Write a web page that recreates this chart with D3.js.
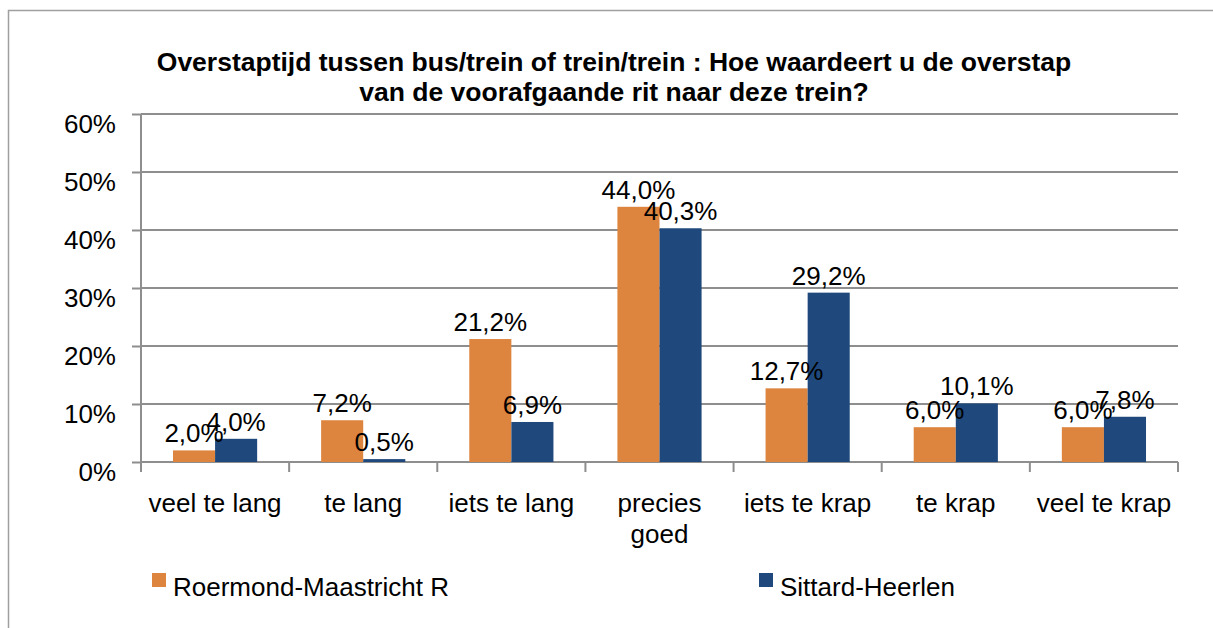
<!DOCTYPE html>
<html>
<head>
<meta charset="utf-8">
<script src="https://cdn.jsdelivr.net/npm/d3@7"></script>
<style>
  html, body { margin: 0; padding: 0; background: #fff; }
  svg { display: block; }
  text { font-family: "Liberation Sans", Arial, sans-serif; fill: #000; }
</style>
</head>
<body>
<svg id="chart" width="1213" height="628"></svg>
<script>
const categories = ["veel te lang", "te lang", "iets te lang", "precies goed", "iets te krap", "te krap", "veel te krap"];
const categoryLines = [["veel te lang"], ["te lang"], ["iets te lang"], ["precies", "goed"], ["iets te krap"], ["te krap"], ["veel te krap"]];
const seriesNames = ["Roermond-Maastricht R", "Sittard-Heerlen"];
const roermondValues = [0.020, 0.072, 0.212, 0.440, 0.127, 0.060, 0.060];
const sittardValues = [0.040, 0.005, 0.069, 0.403, 0.292, 0.101, 0.078];
const yTicks = [0, 0.1, 0.2, 0.3, 0.4, 0.5, 0.6];
const titleLines = ["Overstaptijd tussen bus/trein of trein/trein : Hoe waardeert u de overstap", "van de voorafgaande rit naar deze trein?"];
const colors = ["#dd853f", "#1f497d"];

const seriesValues = [roermondValues, sittardValues];
const svg = d3.select("#chart");
const gridColor = "#8e8e8e";

// outer frame (clipped at right and bottom like the reference)
svg.append("rect").attr("x", 8.5).attr("y", 10.5).attr("width", 1260).attr("height", 700)
  .attr("fill", "none").attr("stroke", "#a0a0a0").attr("stroke-width", 1.5);

const plotLeft = 141, plotRight = 1178, plotTop = 114, plotBottom = 462;

const x = d3.scaleBand().domain(categories).range([plotLeft, plotRight]).paddingInner(0).paddingOuter(0);
const x1 = d3.scaleBand().domain(seriesNames).range([0, x.bandwidth()]).paddingInner(0).paddingOuter(0.76);
const y = d3.scaleLinear().domain([0, 0.6]).range([plotBottom, plotTop]);

// title
const title = svg.append("text").attr("text-anchor", "middle").style("font-weight", "bold").style("font-size", "26.5px");
titleLines.forEach((t, i) => {
  title.append("tspan").attr("x", 614).attr("y", 71 + i * 30).text(t);
});

// gridlines
svg.append("g").selectAll("line").data(yTicks.slice(1)).join("line")
  .attr("x1", plotLeft).attr("x2", plotRight)
  .attr("y1", d => y(d)).attr("y2", d => y(d))
  .attr("stroke", gridColor).attr("stroke-width", 2);

// y axis
const yAxis = d3.axisLeft(y).tickValues(yTicks).tickSize(9).tickPadding(0)
  .tickFormat(d => Math.round(d * 100) + "%");
const gy = svg.append("g").attr("transform", `translate(${plotLeft},0)`).call(yAxis);
gy.select(".domain").attr("stroke", gridColor).attr("stroke-width", 2).attr("d", `M0,${plotBottom}V${plotTop}`);
gy.selectAll(".tick line").attr("stroke", gridColor).attr("stroke-width", 2);
gy.selectAll(".tick text")
  .attr("x", -25).attr("dy", null).attr("y", 18)
  .style("font-size", "26px").style("font-family", "'Liberation Sans', Arial, sans-serif").attr("fill", "#000");

// x axis
const boundaries = categories.map(c => x(c)).concat([plotRight]);
const gx = svg.append("g");
gx.append("line").attr("x1", plotLeft).attr("x2", plotRight).attr("y1", plotBottom).attr("y2", plotBottom)
  .attr("stroke", gridColor).attr("stroke-width", 2);
gx.selectAll("line.tk").data(boundaries).join("line").attr("class", "tk")
  .attr("x1", d => d).attr("x2", d => d).attr("y1", plotBottom).attr("y2", plotBottom + 10)
  .attr("stroke", gridColor).attr("stroke-width", 2);
gx.selectAll("text.cat").data(categories).join("text").attr("class", "cat")
  .attr("text-anchor", "middle").style("font-size", "26px")
  .each(function(c, i) {
    const t = d3.select(this);
    categoryLines[i].forEach((ln, j) => {
      t.append("tspan").attr("x", x(c) + x.bandwidth() / 2).attr("y", 512 + j * 31).text(ln);
    });
  });

// bars
const fmt = v => (v * 100).toFixed(1).replace(".", ",") + "%";
seriesNames.forEach((s, si) => {
  const g = svg.append("g");
  g.selectAll("rect").data(seriesValues[si]).join("rect")
    .attr("x", (d, i) => x(categories[i]) + x1(s))
    .attr("width", x1.bandwidth())
    .attr("y", d => y(d))
    .attr("height", d => plotBottom - y(d))
    .attr("fill", colors[si]);
});
seriesNames.forEach((s, si) => {
  svg.append("g").selectAll("text").data(seriesValues[si]).join("text")
    .attr("x", (d, i) => x(categories[i]) + x1(s) + x1.bandwidth() / 2)
    .attr("y", d => y(d) - 8)
    .attr("text-anchor", "middle").style("font-size", "26px")
    .text(d => fmt(d));
});

// legend
const legendPos = [{sx: 152, tx: 173}, {sx: 759, tx: 780}];
seriesNames.forEach((s, si) => {
  svg.append("rect").attr("x", legendPos[si].sx).attr("y", 573).attr("width", 14).attr("height", 14).attr("fill", colors[si]);
  svg.append("text").attr("x", legendPos[si].tx).attr("y", 596).style("font-size", "26px").text(s);
});
</script>
</body>
</html>
